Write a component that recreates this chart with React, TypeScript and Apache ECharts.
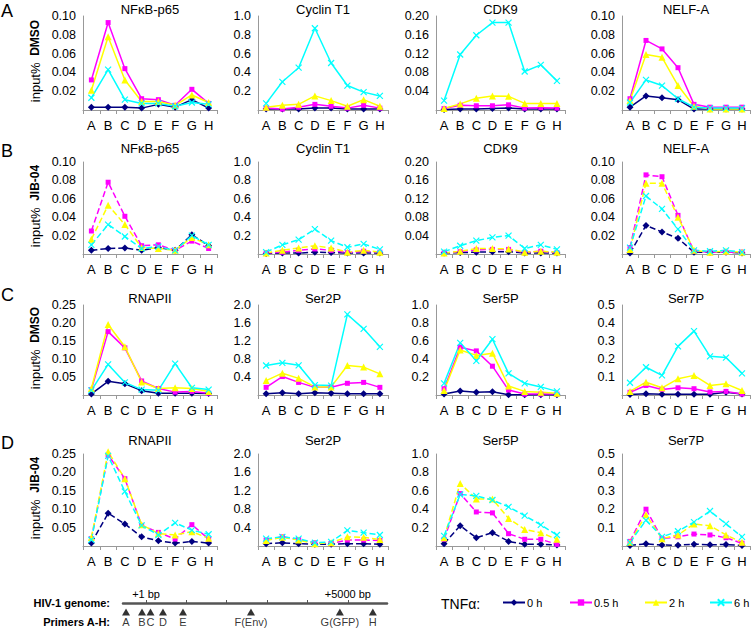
import React, { useEffect, useRef } from 'react';
import * as echarts from 'echarts';

const CATEGORIES = ['A', 'B', 'C', 'D', 'E', 'F', 'G', 'H'];
const TIMES = ['0 h', '0.5 h', '2 h', '6 h'];

// Row A: DMSO
const NFKB_DMSO = [
  [0.003, 0.003, 0.003, 0.002, 0.006, 0.003, 0.011, 0.002],
  [0.032, 0.093, 0.044, 0.012, 0.011, 0.005, 0.022, 0.007],
  [0.021, 0.078, 0.032, 0.009, 0.009, 0.005, 0.016, 0.008],
  [0.013, 0.043, 0.011, 0.007, 0.007, 0.004, 0.008, 0.006],
];
const CYCT1_DMSO = [
  [0.01, 0.01, 0.01, 0.02, 0.02, 0.01, 0.01, 0.01],
  [0.02, 0.01, 0.03, 0.06, 0.04, 0.02, 0.05, 0.02],
  [0.03, 0.05, 0.06, 0.15, 0.1, 0.04, 0.11, 0.04],
  [0.07, 0.3, 0.45, 0.87, 0.5, 0.26, 0.19, 0.15],
];
const CDK9_DMSO = [
  [0.001, 0.002, 0.002, 0.003, 0.004, 0.002, 0.002, 0.002],
  [0.003, 0.01, 0.009, 0.009, 0.011, 0.004, 0.005, 0.004],
  [0.003, 0.013, 0.025, 0.03, 0.029, 0.014, 0.014, 0.014],
  [0.02, 0.118, 0.159, 0.186, 0.186, 0.082, 0.096, 0.062],
];
const NELF_DMSO = [
  [0.003, 0.015, 0.013, 0.011, 0.001, 0.001, 0.001, 0.001],
  [0.012, 0.074, 0.065, 0.045, 0.006, 0.003, 0.003, 0.003],
  [0.01, 0.059, 0.056, 0.026, 0.004, 0.001, 0.001, 0.001],
  [0.008, 0.032, 0.026, 0.012, 0.003, 0.002, 0.002, 0.002],
];
// Row B: JIB-04
const NFKB_JIB = [
  [0.004, 0.006, 0.0065, 0.004, 0.007, 0.004, 0.021, 0.009],
  [0.025, 0.078, 0.041, 0.009, 0.01, 0.004, 0.014, 0.006],
  [0.016, 0.053, 0.032, 0.007, 0.006, 0.004, 0.018, 0.01],
  [0.01, 0.032, 0.019, 0.006, 0.008, 0.004, 0.02, 0.01],
];
const CYCT1_JIB = [
  [0.005, 0.01, 0.01, 0.02, 0.015, 0.01, 0.01, 0.01],
  [0.01, 0.02, 0.04, 0.055, 0.04, 0.015, 0.03, 0.02],
  [0.01, 0.04, 0.065, 0.09, 0.065, 0.02, 0.04, 0.02],
  [0.02, 0.1, 0.156, 0.27, 0.145, 0.073, 0.11, 0.05],
];
const CDK9_JIB = [
  [0.002, 0.003, 0.004, 0.005, 0.005, 0.002, 0.002, 0.002],
  [0.002, 0.005, 0.009, 0.01, 0.01, 0.003, 0.006, 0.003],
  [0.002, 0.006, 0.012, 0.012, 0.011, 0.004, 0.006, 0.004],
  [0.005, 0.018, 0.029, 0.036, 0.04, 0.012, 0.02, 0.01],
];
const NELF_JIB = [
  [0.001, 0.031, 0.024, 0.017, 0.002, 0.002, 0.002, 0.001],
  [0.007, 0.086, 0.084, 0.042, 0.003, 0.002, 0.002, 0.002],
  [0.005, 0.077, 0.077, 0.04, 0.004, 0.002, 0.003, 0.002],
  [0.007, 0.063, 0.049, 0.027, 0.004, 0.003, 0.004, 0.002],
];
// Row C: DMSO
const RNAPII_DMSO = [
  [0.003, 0.038, 0.031, 0.012, 0.005, 0.005, 0.005, 0.004],
  [0.015, 0.176, 0.131, 0.039, 0.018, 0.008, 0.01, 0.005],
  [0.018, 0.196, 0.134, 0.036, 0.018, 0.02, 0.018, 0.01],
  [0.013, 0.085, 0.035, 0.015, 0.013, 0.087, 0.02, 0.015],
];
const SER2P_DMSO = [
  [0.03, 0.05, 0.03, 0.05, 0.04, 0.03, 0.03, 0.03],
  [0.17, 0.41, 0.28, 0.17, 0.17, 0.26, 0.28, 0.17],
  [0.32, 0.485, 0.37, 0.18, 0.18, 0.655, 0.62, 0.47],
  [0.655, 0.715, 0.66, 0.22, 0.21, 1.79, 1.47, 1.07],
];
const SER5P_DMSO = [
  [0.01, 0.045, 0.03, 0.035, 0.003, 0.003, 0.003, 0.003],
  [0.07, 0.53, 0.49, 0.32, 0.055, 0.01, 0.01, 0.01],
  [0.05, 0.5, 0.44, 0.465, 0.1, 0.04, 0.03, 0.02],
  [0.13, 0.58, 0.38, 0.62, 0.24, 0.13, 0.09, 0.04],
];
const SER7P_DMSO = [
  [0.003, 0.007, 0.004, 0.004, 0.004, 0.004, 0.015, 0.006],
  [0.015, 0.053, 0.031, 0.04, 0.035, 0.017, 0.02, 0.005],
  [0.02, 0.071, 0.04, 0.09, 0.109, 0.053, 0.062, 0.025],
  [0.068, 0.154, 0.109, 0.27, 0.355, 0.215, 0.208, 0.12],
];
// Row D: JIB-04
const RNAPII_JIB = [
  [0.008, 0.089, 0.06, 0.025, 0.014, 0.008, 0.012, 0.008],
  [0.02, 0.247, 0.183, 0.056, 0.037, 0.019, 0.058, 0.019],
  [0.023, 0.256, 0.183, 0.058, 0.034, 0.03, 0.039, 0.021],
  [0.017, 0.245, 0.148, 0.056, 0.03, 0.063, 0.043, 0.032],
];
const SER2P_JIB = [
  [0.05, 0.07, 0.05, 0.04, 0.04, 0.05, 0.05, 0.04],
  [0.13, 0.2, 0.14, 0.07, 0.05, 0.13, 0.13, 0.12],
  [0.12, 0.19, 0.13, 0.05, 0.07, 0.2, 0.19, 0.14],
  [0.16, 0.2, 0.16, 0.07, 0.09, 0.34, 0.29, 0.24],
];
const SER5P_JIB = [
  [0.025, 0.22, 0.09, 0.145, 0.05, 0.018, 0.018, 0.01],
  [0.073, 0.57, 0.37, 0.36, 0.134, 0.073, 0.073, 0.018],
  [0.09, 0.68, 0.51, 0.51, 0.3, 0.18, 0.145, 0.073],
  [0.11, 0.56, 0.545, 0.5, 0.425, 0.33, 0.23, 0.12],
];
const SER7P_JIB = [
  [0.003, 0.012, 0.005, 0.004, 0.01, 0.007, 0.008, 0.003],
  [0.025, 0.2, 0.04, 0.05, 0.065, 0.06, 0.045, 0.015],
  [0.02, 0.17, 0.04, 0.06, 0.12, 0.11, 0.06, 0.02],
  [0.02, 0.14, 0.05, 0.08, 0.13, 0.19, 0.12, 0.05],
];

// Primer map (approximate bp positions along HIV-1 genome)
const PRIMER_LABELS = ['A', 'B', 'C', 'D', 'E', 'F(Env)', 'G(GFP)', 'H'];
const PRIMER_BP = [-495, -99, 111, 420, 916, 2600, 4802, 5619];
const GENOME_TICKS = [1, 1000, 2000, 3000, 4000, 5000];
const GENOME_LABELS = [1, 5000];

const ROW_LETTERS = ['A', 'B', 'C', 'D'];
const ROW_TREATMENT = ['DMSO', 'JIB-04', 'DMSO', 'JIB-04'];

const PANELS = [
  { title: 'NFκB-p65', max: 0.1, interval: 0.02, dec: 2, data: NFKB_DMSO },
  { title: 'Cyclin T1', max: 1.0, interval: 0.2, dec: 1, data: CYCT1_DMSO },
  { title: 'CDK9', max: 0.2, interval: 0.04, dec: 2, data: CDK9_DMSO },
  { title: 'NELF-A', max: 0.1, interval: 0.02, dec: 2, data: NELF_DMSO },
  { title: 'NFκB-p65', max: 0.1, interval: 0.02, dec: 2, data: NFKB_JIB },
  { title: 'Cyclin T1', max: 1.0, interval: 0.2, dec: 1, data: CYCT1_JIB },
  { title: 'CDK9', max: 0.2, interval: 0.04, dec: 2, data: CDK9_JIB },
  { title: 'NELF-A', max: 0.1, interval: 0.02, dec: 2, data: NELF_JIB },
  { title: 'RNAPII', max: 0.25, interval: 0.05, dec: 2, data: RNAPII_DMSO },
  { title: 'Ser2P', max: 2.0, interval: 0.4, dec: 1, data: SER2P_DMSO },
  { title: 'Ser5P', max: 1.0, interval: 0.2, dec: 1, data: SER5P_DMSO },
  { title: 'Ser7P', max: 0.5, interval: 0.1, dec: 1, data: SER7P_DMSO },
  { title: 'RNAPII', max: 0.25, interval: 0.05, dec: 2, data: RNAPII_JIB },
  { title: 'Ser2P', max: 2.0, interval: 0.4, dec: 1, data: SER2P_JIB },
  { title: 'Ser5P', max: 1.0, interval: 0.2, dec: 1, data: SER5P_JIB },
  { title: 'Ser7P', max: 0.5, interval: 0.1, dec: 1, data: SER7P_JIB },
];

// layout
const COL_LEFT = [83, 258, 436, 622];
const COL_WIDTH = [134, 130, 129, 128];
const ROW_TOP = [16, 162, 305, 454];
const ROW_H = [94, 92, 90, 92];
const TITLE_Y = [9, 148, 298, 440];
const LETTER_Y = [11, 151, 295, 443];
const LEGEND_LEFT = [502, 569, 644, 709];

const COLORS = ['#000080', '#FF00FF', '#FFFF00', '#00FFFF'];
const SYMBOLS = ['diamond', 'rect', 'triangle', 'path://M0,0L10,10M10,0L0,10'];
const SYMBOL_SIZES = [7, 5, 7, 6];
const FONT = '"Liberation Sans", Arial, sans-serif';

function buildOption() {
  const grid: any[] = [];
  const xAxis: any[] = [];
  const yAxis: any[] = [];
  const series: any[] = [];
  const graphic: any[] = [];

  PANELS.forEach((p, i) => {
    const r = Math.floor(i / 4);
    const c = i % 4;
    const dashed = r === 1 || r === 3;
    grid.push({ left: COL_LEFT[c], top: ROW_TOP[r], width: COL_WIDTH[c], height: ROW_H[r] });
    xAxis.push({
      gridIndex: i,
      type: 'category',
      data: CATEGORIES,
      boundaryGap: true,
      axisLine: { lineStyle: { color: '#999', width: 1 } },
      axisTick: { show: true, length: 4, lineStyle: { color: '#999' } },
      axisLabel: { color: '#000', fontSize: 13, fontFamily: FONT, margin: 9, interval: 0 },
      splitLine: { show: false },
    });
    yAxis.push({
      gridIndex: i,
      type: 'value',
      min: 0,
      max: p.max,
      interval: p.interval,
      axisLine: { show: true, lineStyle: { color: '#999', width: 1 } },
      axisTick: { show: false },
      splitLine: { show: false },
      axisLabel: {
        color: '#000',
        fontSize: 12.5,
        fontFamily: FONT,
        margin: 7,
        formatter: (v: number) => (v === 0 ? '' : v.toFixed(p.dec)),
      },
    });
    p.data.forEach((vals, k) => {
      series.push({
        type: 'line',
        name: TIMES[k],
        xAxisIndex: i,
        yAxisIndex: i,
        data: vals,
        symbol: SYMBOLS[k],
        symbolSize: SYMBOL_SIZES[k],
        showSymbol: true,
        clip: false,
        lineStyle: { color: COLORS[k], width: 1.5, type: dashed ? [6, 3] : 'solid' },
        itemStyle: { color: COLORS[k], borderColor: COLORS[k], borderWidth: k === 3 ? 1.2 : 0 },
        emphasis: { disabled: true },
      });
    });
    graphic.push({
      type: 'text',
      x: COL_LEFT[c] + COL_WIDTH[c] / 2,
      y: TITLE_Y[r],
      style: { text: p.title, align: 'center', verticalAlign: 'middle', fontSize: 13, fontFamily: FONT, fill: '#000' },
    });
  });

  ROW_LETTERS.forEach((L, r) => {
    graphic.push({
      type: 'text',
      x: 1,
      y: LETTER_Y[r],
      style: { text: L, align: 'left', verticalAlign: 'middle', fontSize: 18, fontFamily: FONT, fill: '#000' },
    });
    graphic.push({
      type: 'text',
      x: 35,
      y: ROW_TOP[r] + ROW_H[r] / 2 - 2,
      rotation: Math.PI / 2,
      style: {
        text: '{n|input%}  {b|' + ROW_TREATMENT[r] + '}',
        align: 'center',
        verticalAlign: 'middle',
        rich: {
          n: { fontSize: 13, fontFamily: FONT, fill: '#000' },
          b: { fontSize: 12, fontFamily: FONT, fontWeight: 'bold', fill: '#000' },
        },
      },
    });
  });

  // genome map
  const gi = PANELS.length;
  grid.push({ left: 123, width: 264, top: 603, height: 18 });
  xAxis.push({
    gridIndex: gi,
    type: 'value',
    min: -570,
    max: 5970,
    position: 'top',
    axisLine: { show: true, onZero: false, lineStyle: { color: '#555', width: 2.5 } },
    axisTick: { show: true, inside: false, length: 3, customValues: GENOME_TICKS, lineStyle: { color: '#555', width: 1 } },
    axisLabel: {
      show: true,
      customValues: GENOME_LABELS,
      formatter: (v: number) => '+' + v + ' bp',
      margin: 4,
      fontSize: 11,
      fontFamily: FONT,
      color: '#000',
    },
    splitLine: { show: false },
  });
  yAxis.push({ gridIndex: gi, type: 'value', min: -1, max: 1, show: false });
  series.push({
    type: 'scatter',
    name: 'primers',
    xAxisIndex: gi,
    yAxisIndex: gi,
    data: PRIMER_BP.map((bp, i) => ({ value: [bp, 0], name: PRIMER_LABELS[i] })),
    symbol: 'triangle',
    symbolSize: [8, 7],
    itemStyle: { color: '#000' },
    clip: false,
    label: { show: true, position: 'bottom', distance: 1, formatter: '{b}', fontSize: 11, fontFamily: FONT, color: '#000' },
    emphasis: { disabled: true },
  });

  graphic.push({
    type: 'text',
    x: 110,
    y: 603,
    style: { text: 'HIV-1 genome:', align: 'right', verticalAlign: 'middle', fontSize: 11, fontWeight: 'bold', fontFamily: FONT, fill: '#000' },
  });
  graphic.push({
    type: 'text',
    x: 110,
    y: 622,
    style: { text: 'Primers A-H:', align: 'right', verticalAlign: 'middle', fontSize: 11, fontWeight: 'bold', fontFamily: FONT, fill: '#000' },
  });
  graphic.push({
    type: 'text',
    x: 441,
    y: 604,
    style: { text: 'TNFα:', align: 'left', verticalAlign: 'middle', fontSize: 14, fontFamily: FONT, fill: '#000' },
  });

  const legend = TIMES.map((t, k) => ({
    data: [t],
    left: LEGEND_LEFT[k],
    top: 597,
    padding: 0,
    itemWidth: 22,
    itemHeight: 8,
    itemGap: 4,
    selectedMode: false,
    textStyle: { fontSize: 11, fontFamily: FONT, color: '#000', padding: [0, 0, 0, -3] },
  }));

  return {
    animation: false,
    backgroundColor: '#ffffff',
    grid,
    xAxis,
    yAxis,
    series,
    graphic,
    legend,
  };
}

export default function App() {
  const ref = useRef<HTMLDivElement>(null);
  useEffect(() => {
    if (!ref.current) return;
    const chart = echarts.init(ref.current, undefined, { renderer: 'svg' });
    chart.setOption(buildOption() as any);
    return () => chart.dispose();
  }, []);
  return (
    <div
      ref={ref}
      style={{ position: 'fixed', left: 0, top: 0, width: 751, height: 630, background: '#fff' }}
    />
  );
}
